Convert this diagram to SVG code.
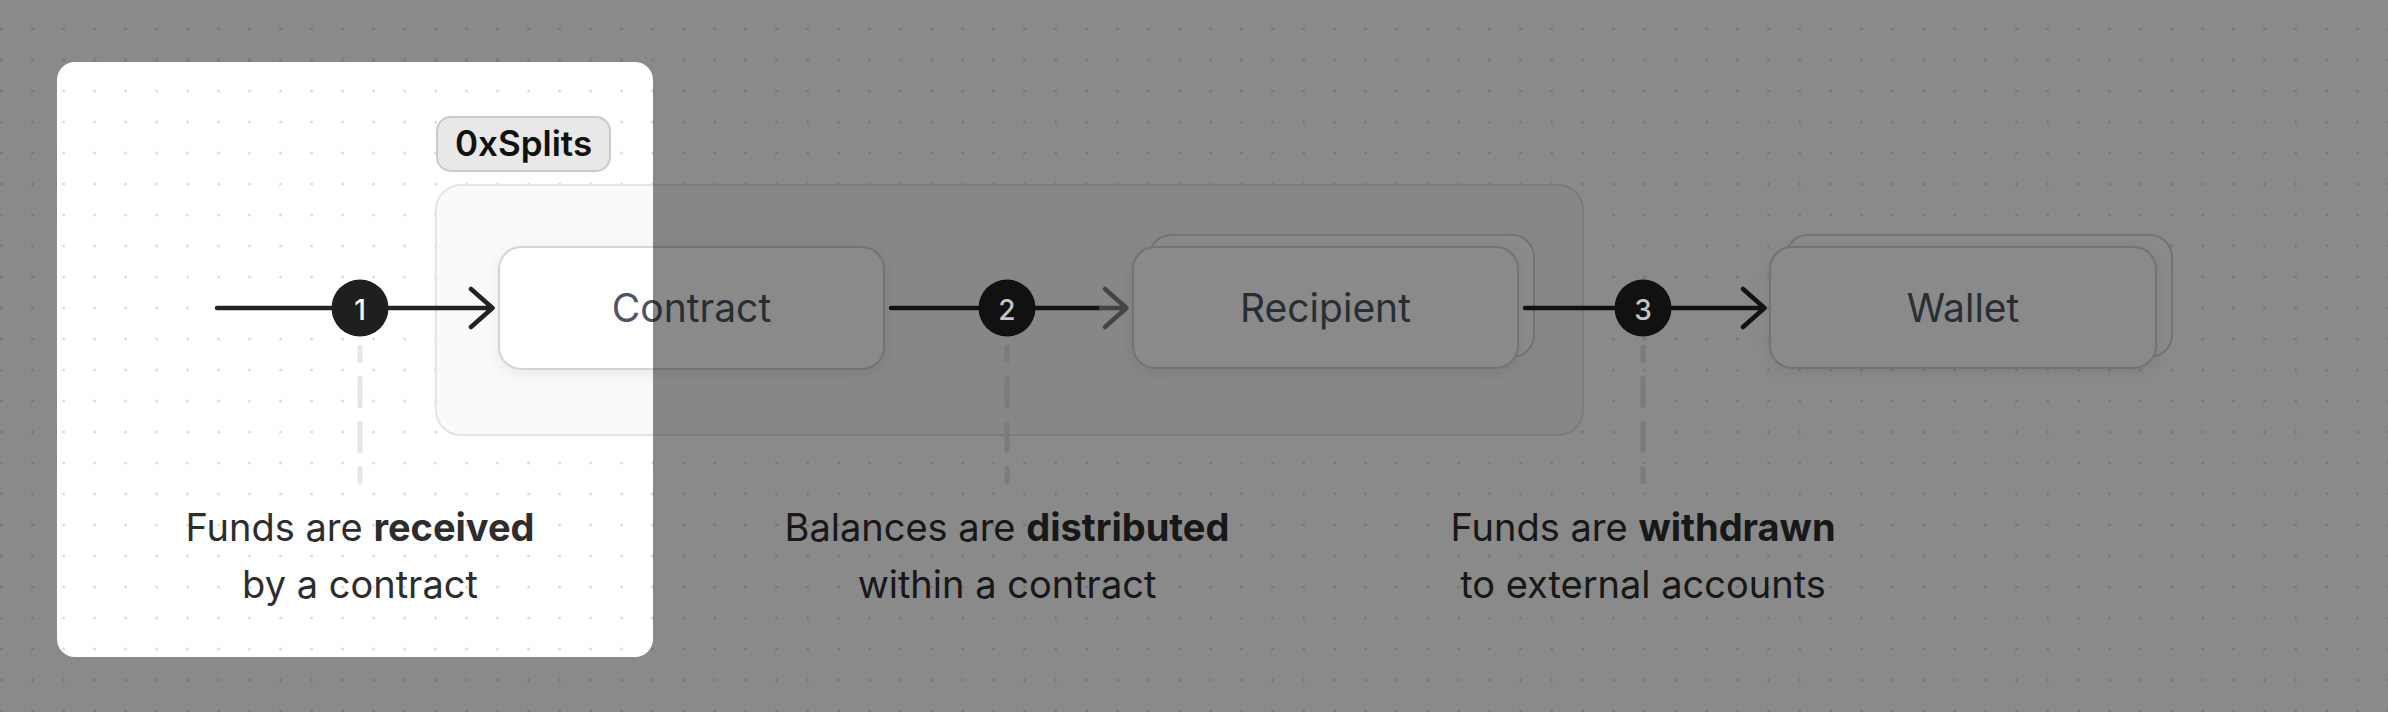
<svg xmlns="http://www.w3.org/2000/svg" width="2388" height="712" viewBox="0 0 2388 712">
<defs>
<pattern id="dots" patternUnits="userSpaceOnUse" width="31" height="31">
<circle cx="1.6" cy="29" r="1.6" fill="#dedede"/>
</pattern>
<filter id="shadow" x="-20%" y="-30%" width="140%" height="170%">
<feDropShadow dx="0" dy="4" stdDeviation="7" flood-color="#000" flood-opacity="0.07"/>
</filter>
</defs>
<style>
.node{fill:#fff;stroke:#d1d5db;stroke-width:2}
.nlabel{font-family:Inter,"Noto Sans",sans-serif;font-size:39px;fill:#4b5563;text-anchor:middle}
.cap{font-family:Inter,"Noto Sans",sans-serif;font-size:38px;fill:#2d2d2d;text-anchor:middle}
.cap .b{font-weight:700}
.line{fill:none;stroke-width:4.5;stroke-linecap:round;stroke-linejoin:round}
.dash{fill:none;stroke-width:5;stroke-linecap:round}
.badge-num{font-family:Inter,"Noto Sans",sans-serif;font-size:28px;font-weight:500;text-anchor:middle}
</style>
<rect width="2388" height="712" fill="#fff"/>
<rect width="2388" height="712" fill="url(#dots)"/>

<g id="group-0xsplits">
<rect x="436" y="185" width="1147" height="250" rx="25" fill="#fafafa" stroke="#e4e4e7" stroke-width="2"/>
<rect x="437" y="117" width="173" height="54" rx="14" fill="#e8e8e8" stroke="#c9c9c9" stroke-width="2"/>
<text x="523.5" y="156" font-family="Inter,'Noto Sans',sans-serif" font-size="35" font-weight="600" fill="#111" text-anchor="middle">0xSplits</text>
</g>

<g id="node-contract">
<rect class="node" x="499" y="247" width="385" height="122" rx="22" filter="url(#shadow)"/>
<text class="nlabel" x="691.5" y="322">Contract</text>
</g>

<g id="node-recipient">
<rect class="node" x="1149" y="235" width="385" height="122" rx="22"/>
<rect class="node" x="1133" y="247" width="385" height="121" rx="22" filter="url(#shadow)"/>
<text class="nlabel" x="1325.5" y="322">Recipient</text>
</g>

<g id="node-wallet">
<rect class="node" x="1786" y="235" width="386" height="122" rx="22"/>
<rect class="node" x="1770" y="247" width="386" height="121" rx="22" filter="url(#shadow)"/>
<text class="nlabel" x="1963" y="322">Wallet</text>
</g>

<g id="caption-1">
<text class="cap" x="360" y="541">Funds are <tspan class="b">received</tspan></text>
<text class="cap" x="360" y="598">by a contract</text>
</g>
<g id="caption-2">
<text class="cap" x="1007" y="541">Balances are <tspan class="b">distributed</tspan></text>
<text class="cap" x="1007" y="598">within a contract</text>
</g>
<g id="caption-3">
<text class="cap" x="1643" y="541">Funds are <tspan class="b">withdrawn</tspan></text>
<text class="cap" x="1643" y="598">to external accounts</text>
</g>

<path id="overlay" fill-rule="evenodd" fill="#000" fill-opacity="0.46" d="M0 0H2388V712H0Z M75 62H635A18 18 0 0 1 653 80V639A18 18 0 0 1 635 657H75A18 18 0 0 1 57 639V80A18 18 0 0 1 75 62Z"/>

<g id="connectors">
<path class="dash" stroke="#e5e5e5" d="M360 347.5V360.5M360 378.5V405.5M360 423.5V450.5M360 468.5V481.5"/>
<path class="dash" stroke="#7b7b7b" d="M1007 347.5V360.5M1007 378.5V405.5M1007 423.5V450.5M1007 468.5V481.5"/>
<path class="dash" stroke="#7b7b7b" d="M1643 347.5V360.5M1643 378.5V405.5M1643 423.5V450.5M1643 468.5V481.5"/>
<path id="edge-1" class="line" stroke="#222" d="M217 308H490M471 289L492.5 308L471 327"/>
<path id="edge-2" class="line" stroke="#111" d="M891 308H1101"/>
<path id="edge-2-head" class="line" stroke="#444" d="M1101 308H1124M1105 289L1126.5 308L1105 327"/>
<path id="edge-3" class="line" stroke="#111" d="M1525 308H1762M1743 289L1764.5 308L1743 327"/>
</g>

<g id="badge-1">
<circle cx="360" cy="308" r="28.5" fill="#1f1f1f"/>
<text class="badge-num" x="360" y="320" fill="#fff">1</text>
</g>
<g id="badge-2">
<circle cx="1007" cy="308" r="28.5" fill="#111"/>
<text class="badge-num" x="1007" y="320" fill="#c4c4c4">2</text>
</g>
<g id="badge-3">
<circle cx="1643" cy="308" r="28.5" fill="#111"/>
<text class="badge-num" x="1643" y="320" fill="#c4c4c4">3</text>
</g>
</svg>
